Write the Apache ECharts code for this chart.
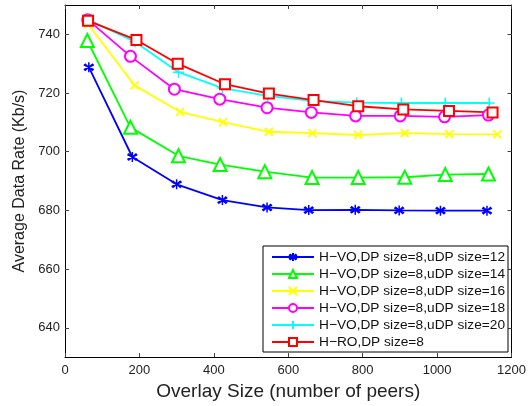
<!DOCTYPE html>
<html>
<head>
<meta charset="utf-8">
<script src="https://cdn.jsdelivr.net/npm/echarts@6/dist/echarts.min.js"></script>
<style>html,body{margin:0;padding:0;background:#fff}#c{width:529px;height:406px}</style>
</head>
<body>
<div id="c"></div>
<script>
var seriesNames = ['H\u2212VO,DP size=8,uDP size=12','H\u2212VO,DP size=8,uDP size=14','H\u2212VO,DP size=8,uDP size=16','H\u2212VO,DP size=8,uDP size=18','H\u2212VO,DP size=8,uDP size=20','H\u2212RO,DP size=8'];
var blueX = [64,181,300,423,543,655,780,898,1009,1134];
var blueY = [728.8,698.2,688.9,683.5,681.0,680.1,680.2,680.0,679.9,679.9];
var greenX = [60,176,305,417,537,664,788,913,1022,1138];
var greenY = [737.9,708.3,698.6,695.6,693.2,691.2,691.2,691.3,692.2,692.4];
var yellowX = [62,187,309,425,548,665,788,913,1033,1162];
var yellowY = [743.5,722.6,713.6,710.1,706.8,706.3,705.7,706.3,706.0,705.9];
var magentaX = [61,176,294,416,543,662,781,901,1020,1138];
var magentaY = [745.0,732.5,721.3,717.9,715.0,713.4,712.2,712.2,711.9,712.5];
var cyanX = [62,188,305,423,545,664,784,904,1022,1140];
var cyanY = [745.0,737.5,727.1,721.7,719.0,717.3,716.7,716.6,716.6,716.6];
var redX = [62,192,303,430,548,668,788,909,1032,1149];
var redY = [744.6,738.1,730.0,723.0,719.8,717.6,715.5,714.4,713.9,713.4];
var xTicks = [0,200,400,600,800,1000,1200];
var yTicks = [640,660,680,700,720,740];

function pairs(xs, ys){ return xs.map(function(x,i){ return [x, ys[i]]; }); }

var FONT = 'Liberation Sans, Arial, Helvetica, sans-serif';
var asterisk = 'path://M0,-5L0,5M-4.33,-2.5L4.33,2.5M-4.33,2.5L4.33,-2.5M-3.5,-3.5L3.5,3.5M-3.5,3.5L3.5,-3.5';
var xmark = 'path://M-1,-1L1,1M-1,1L1,-1';
var plus = 'path://M0,-1L0,1M-1,0L1,0';

function mk(name, xs, ys, color, symbol, size, stroke){
  return {
    name: name, type: 'line', data: pairs(xs, ys),
    symbol: symbol, symbolSize: size, showAllSymbol: true,
    color: color,
    lineStyle: {color: color, width: 1.8},
    itemStyle: {color: color, borderColor: color, borderWidth: stroke},
    emphasis: {disabled: true},
    animation: false, z: 3
  };
}

var chart = echarts.init(document.getElementById('c'), null, {renderer: 'canvas'});
chart.setOption({
  animation: false,
  backgroundColor: '#fff',
  textStyle: {fontFamily: FONT},
  grid: {left: 65, right: 15, top: 5, bottom: 48, containLabel: false},
  xAxis: [{
    type: 'value', min: 0, max: 1200, interval: 200, position: 'bottom',
    name: 'Overlay Size (number of peers)', nameLocation: 'middle', nameGap: 19,
    nameTextStyle: {fontSize: 19, color: '#222', fontFamily: FONT},
    axisLine: {show: true, onZero: false, lineStyle: {color: '#000', width: 1}},
    axisTick: {show: true, inside: true, length: 4, lineStyle: {color: '#444'}},
    axisLabel: {fontSize: 13, color: '#222', margin: 7, fontFamily: FONT,
      formatter: function(v){ return String(v); }},
    splitLine: {show: false}
  },{
    type: 'value', min: 0, max: 1200, interval: 200, position: 'top',
    axisLine: {show: true, onZero: false, lineStyle: {color: '#000', width: 1}},
    axisTick: {show: true, inside: true, length: 4, lineStyle: {color: '#444'}},
    axisLabel: {show: false}, splitLine: {show: false}
  }],
  yAxis: [{
    type: 'value', min: 630, max: 750, position: 'left',
    name: 'Average Data Rate (Kb/s)', nameLocation: 'middle', nameGap: 36,
    nameTextStyle: {fontSize: 16, color: '#222', fontFamily: FONT},
    axisLine: {show: true, onZero: false, lineStyle: {color: '#000', width: 1}},
    axisTick: {show: true, inside: true, length: 4, customValues: yTicks, lineStyle: {color: '#444'}},
    axisLabel: {fontSize: 13, color: '#222', margin: 5, customValues: yTicks, fontFamily: FONT},
    splitLine: {show: false}
  },{
    type: 'value', min: 630, max: 750, position: 'right',
    axisLine: {show: true, onZero: false, lineStyle: {color: '#000', width: 1}},
    axisTick: {show: true, inside: true, length: 4, customValues: yTicks, lineStyle: {color: '#444'}},
    axisLabel: {show: false}, splitLine: {show: false}
  }],
  legend: {
    show: true, orient: 'vertical', left: 263, top: 246,
    backgroundColor: '#fff', borderColor: '#000', borderWidth: 1,
    padding: [4, 3, 3, 8], itemGap: 3, itemWidth: 42, itemHeight: 10,
    textStyle: {fontSize: 13.7, color: '#111', fontFamily: FONT},
    selectedMode: false,
    data: seriesNames
  },
  series: [
    mk(seriesNames[0], blueX, blueY, '#0000ff', asterisk, 10, 1.5),
    mk(seriesNames[1], greenX, greenY, '#00ff00', 'emptyTriangle', 13, 1.5),
    mk(seriesNames[2], yellowX, yellowY, '#ffff00', xmark, 8, 1.8),
    mk(seriesNames[3], magentaX, magentaY, '#ff00ff', 'emptyCircle', 11, 1.5),
    mk(seriesNames[4], cyanX, cyanY, '#00ffff', plus, 11, 1.5),
    mk(seriesNames[5], redX, redY, '#ff0000', 'emptyRect', 10, 1.5)
  ]
});
</script>
</body>
</html>
